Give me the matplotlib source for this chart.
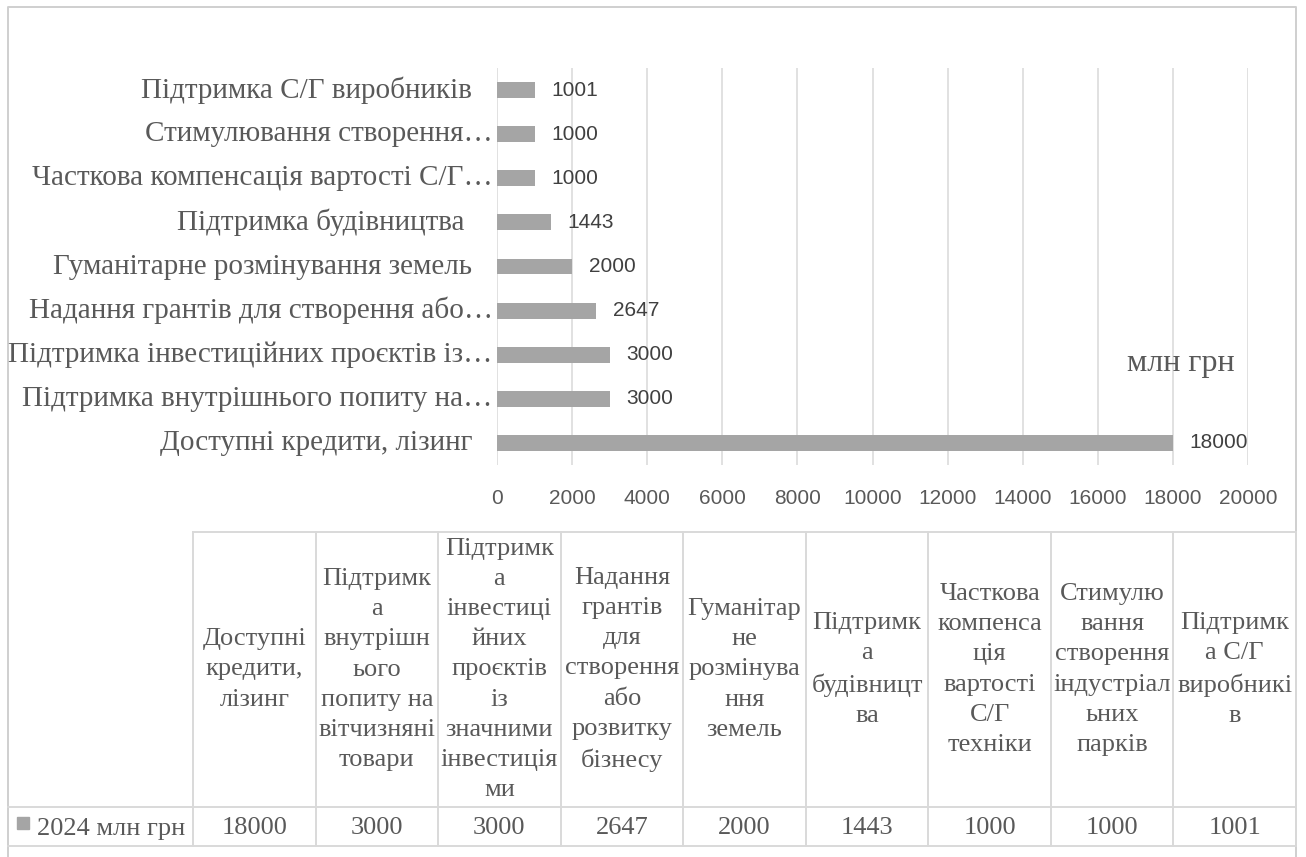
import matplotlib
matplotlib.use("Agg")
import matplotlib.pyplot as plt
from matplotlib.lines import Line2D
from matplotlib.transforms import blended_transform_factory, offset_copy

W, H = 1306, 857
SERIF = "Liberation Serif"
SANS = "Liberation Sans"
TXT = "#595959"
GRID = "#D9D9D9"
BAR = "#A5A5A5"

# data, bottom to top as drawn on the axis
values = [18000, 3000, 3000, 2647, 2000, 1443, 1000, 1000, 1001]
axis_labels = [
    "Доступні кредити, лізинг",
    "Підтримка внутрішнього попиту на…",
    "Підтримка інвестиційних проєктів із…",
    "Надання грантів для створення або…",
    "Гуманітарне розмінування земель",
    "Підтримка будівництва ",
    "Часткова компенсація вартості С/Г…",
    "Стимулювання створення…",
    "Підтримка С/Г виробників",
]
table_headers = [
    "Доступні\nкредити,\nлізинг",
    "Підтримк\nа\nвнутрішн\nього\nпопиту на\nвітчизняні\nтовари",
    "Підтримк\nа\nінвестиці\nйних\nпроєктів\nіз\nзначними\nінвестиція\nми",
    "Надання\nгрантів\nдля\nстворення\nабо\nрозвитку\nбізнесу",
    "Гуманітар\nне\nрозмінува\nння\nземель",
    "Підтримк\nа\nбудівницт\nва",
    "Часткова\nкомпенса\nція\nвартості\nС/Г\nтехніки",
    "Стимулю\nвання\nстворення\nіндустріал\nьних\nпарків",
    "Підтримк\nа С/Г\nвиробникі\nв",
]
series_name = "2024 млн грн"
unit_label = "млн грн"
xticks = list(range(0, 20001, 2000))

fig = plt.figure(figsize=(W / 100, H / 100), dpi=100)

# overlay in pixel coordinates for frame and data table
ov = fig.add_axes([0, 0, 1, 1], zorder=0)
ov.set_xlim(0, W)
ov.set_ylim(H, 0)
ov.axis("off")
ov.patch.set_alpha(0)

# chart frame
ov.add_line(Line2D([8, 8, 1296, 1296], [H + 5, 7, 7, H + 5], color="#CFCFCF", lw=1.4))

# bar chart
ax = fig.add_axes([497 / W, 1 - 465 / H, (1248 - 497) / W, (465 - 68) / H], zorder=1)
ax.patch.set_alpha(0)
pos = list(range(len(values)))
bars = ax.barh(pos, values, height=0.36, color=BAR, zorder=2)
ax.set_xlim(0, 20000)
ax.set_ylim(-0.5, len(values) - 0.5)
ax.set_xticks(xticks)
ax.set_xticklabels([str(t) for t in xticks], fontfamily=SANS, fontsize=15, color=TXT)
ax.set_yticks(pos)
ax.set_yticklabels([])
ax.tick_params(axis="x", length=0, pad=17)
ax.tick_params(axis="y", length=0)
ax.grid(axis="x", color=GRID, lw=1.1, zorder=0)
for s in ax.spines.values():
    s.set_visible(False)

# category labels: truncated ones run up to the axis, as in Excel
base = blended_transform_factory(ax.transAxes, ax.transData)
for p, lab in zip(pos, axis_labels):
    dx = -3 if lab.endswith("…") else -18
    tr = offset_copy(base, fig=fig, x=dx, y=0, units="points")
    ax.text(0, p, lab, transform=tr, ha="right", va="center", fontfamily=SERIF,
            fontsize=21, color=TXT, clip_on=False)

for b, v in zip(bars, values):
    ax.annotate(str(v), (b.get_width(), b.get_y() + b.get_height() / 2),
                xytext=(12, 0), textcoords="offset points", va="center", ha="left",
                fontfamily=SANS, fontsize=15, color="#404040")

fig.text(1181 / W, 1 - 363 / H, unit_label, ha="center", va="center",
         fontfamily=SERIF, fontsize=23, color=TXT)

# data table
t_left, t_right = 193, 1296
t_top, t_mid, t_bot = 532, 807, 846
n = len(values)
cw = (t_right - t_left) / n
edges = [t_left + i * cw for i in range(n + 1)]
ov.add_line(Line2D([t_left, t_right], [t_top, t_top], color=GRID, lw=1.4))
ov.add_line(Line2D([8, t_right], [t_mid, t_mid], color=GRID, lw=1.4))
ov.add_line(Line2D([8, t_right], [t_bot, t_bot], color=GRID, lw=1.4))
for x in edges:
    ov.add_line(Line2D([x, x], [t_top, t_bot], color=GRID, lw=1.4))
for i, (hdr, v) in enumerate(zip(table_headers, values)):
    cx = (edges[i] + edges[i + 1]) / 2
    ov.text(cx, (t_top + t_mid) / 2, hdr, ha="center", va="center", fontfamily=SERIF,
            fontsize=19, color=TXT, linespacing=1.48)
    ov.text(cx, (t_mid + t_bot) / 2 + 2, str(v), ha="center", va="center",
            fontfamily=SERIF, fontsize=19, color=TXT)
ov.plot([23], [823], marker="s", ms=8.8, color=BAR, mec=BAR)
ov.text(37, (t_mid + t_bot) / 2 + 2, series_name, ha="left", va="center",
        fontfamily=SERIF, fontsize=19, color=TXT)

fig.savefig("out.png", dpi=100)
